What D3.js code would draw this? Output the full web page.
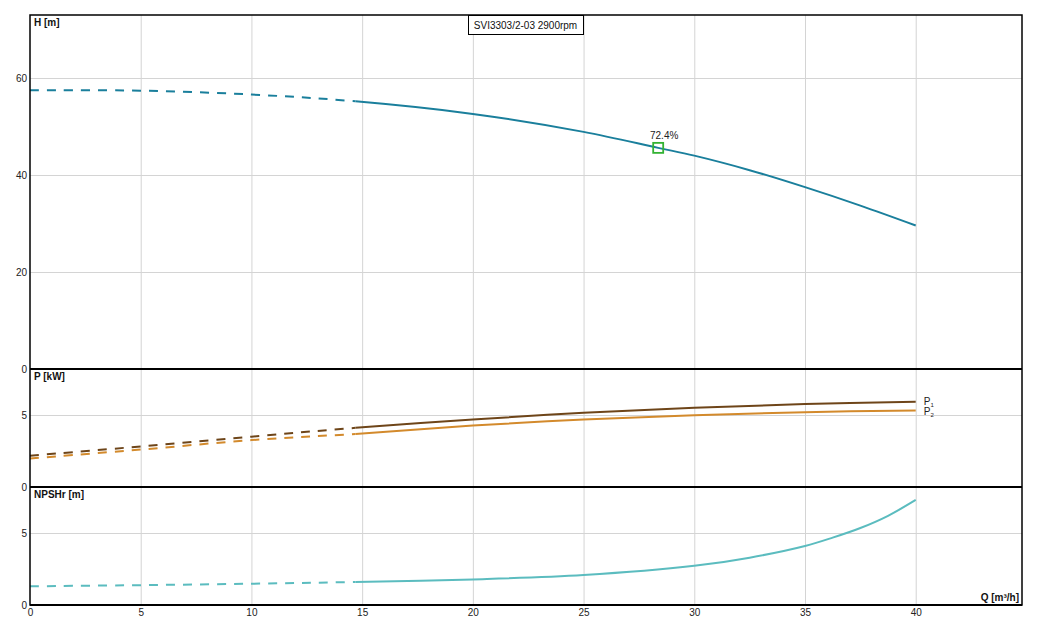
<!DOCTYPE html>
<html><head><meta charset="utf-8">
<script src="https://cdn.jsdelivr.net/npm/d3@7"></script>
<style>body{margin:0;background:#fff}svg{display:block;font-family:"Liberation Sans",Arial,sans-serif}</style>
</head><body>
<svg id="c" width="1043" height="632"></svg>
<script>
// ---- data ----
const title = "SVI3303/2-03 2900rpm";
const qTicks = [0,5,10,15,20,25,30,35,40];
const hTicks = [0,20,40,60];
const pTicks = [0,5];
const nTicks = [0,5];
const qSplit = 14.7;           // below this flow the curves are dashed
const hQ   = [0,5,10,14.7,20,25,28.37,30,32.5,35,37.5,40];
const hVal = [57.5,57.4,56.6,55.2,52.6,48.9,45.6,44.0,41.0,37.5,33.7,29.6];
const pQ   = [0,5,10,14.7,20,25,30,35,40];
const p1Val = [2.17,2.82,3.5,4.11,4.69,5.16,5.51,5.76,5.93];
const p2Val = [1.98,2.6,3.26,3.69,4.27,4.69,4.99,5.2,5.32];
const nQ   = [0,5,10,14.7,20,25,30,32.5,35,36.25,37.5,38.75,40];
const nVal = [1.3,1.38,1.48,1.6,1.78,2.08,2.72,3.29,4.1,4.68,5.35,6.2,7.3];
const bep = {q:28.37, h:45.6, label:"72.4%"};

// ---- layout ----
const svg = d3.select("#c");
const L = 30, R = 1022;
const panels = [
  {top:15, bottom:369, dom:[0,73], ticks:hTicks, label:"H [m]"},
  {top:369, bottom:487, dom:[0,8.2], ticks:pTicks, label:"P [kW]"},
  {top:487, bottom:605, dom:[0,8.2], ticks:nTicks, label:"NPSHr [m]"}
];
const x = d3.scaleLinear().domain([0,44.8]).range([L,R]);
panels.forEach(p => p.y = d3.scaleLinear().domain(p.dom).range([p.bottom,p.top]));

const defs = svg.append("defs");
defs.append("clipPath").attr("id","cl").append("rect").attr("x",0).attr("y",0)
  .attr("width",x(qSplit)).attr("height",632);
defs.append("clipPath").attr("id","cr").append("rect").attr("x",x(qSplit)).attr("y",0)
  .attr("width",1043).attr("height",632);

const grid = "#d4d4d4";
panels.forEach(p => {
  svg.append("g").selectAll("line").data(qTicks.filter(d=>d>0)).join("line")
    .attr("x1",d=>x(d)+0.5).attr("x2",d=>x(d)+0.5).attr("y1",p.top).attr("y2",p.bottom)
    .attr("stroke",grid).attr("stroke-width",1);
  svg.append("g").selectAll("line").data(p.ticks.filter(d=>d>0)).join("line")
    .attr("x1",L).attr("x2",R).attr("y1",d=>Math.round(p.y(d))+0.5).attr("y2",d=>Math.round(p.y(d))+0.5)
    .attr("stroke",grid).attr("stroke-width",1);
  const ax = svg.append("g").attr("transform",`translate(${L-2},0)`)
    .call(d3.axisLeft(p.y).tickValues(p.ticks).tickSize(0).tickPadding(1).tickFormat(d3.format("d")));
  ax.select(".domain").remove();
  ax.selectAll("text").attr("font-size",10).attr("fill","#222").attr("font-family","Liberation Sans, Arial, sans-serif");
  svg.append("text").attr("x",L+4).attr("y",p.top+11).attr("font-size",10).attr("font-weight","bold")
    .attr("fill","#111").text(p.label);
});

const xa = svg.append("g").attr("transform",`translate(0,${605})`)
  .call(d3.axisBottom(x).tickValues(qTicks).tickSize(0).tickPadding(4).tickFormat(d3.format("d")));
xa.select(".domain").remove();
xa.selectAll("text").attr("font-size",10).attr("fill","#222").attr("font-family","Liberation Sans, Arial, sans-serif");
svg.append("text").attr("x",R-3).attr("y",601).attr("text-anchor","end").attr("font-size",10)
  .attr("font-weight","bold").attr("fill","#111").text("Q [m³/h]");

function drawCurve(qs, vs, yScale, color, width) {
  const pts = qs.map((q,i)=>[q,vs[i]]);
  const line = d3.line().x(d=>x(d[0])).y(d=>yScale(d[1])).curve(d3.curveCatmullRom.alpha(0.5));
  const d = line(pts);
  svg.append("path").attr("d",d).attr("fill","none").attr("clip-path","url(#cl)")
    .attr("stroke",color).attr("stroke-width",width).attr("stroke-dasharray","9,8");
  svg.append("path").attr("d",d).attr("fill","none").attr("clip-path","url(#cr)")
    .attr("stroke",color).attr("stroke-width",width);
}
drawCurve(hQ,hVal,panels[0].y,"#1a7f9c",2);
drawCurve(pQ,p1Val,panels[1].y,"#6e4519",2);
drawCurve(pQ,p2Val,panels[1].y,"#d38a2c",2);
drawCurve(nQ,nVal,panels[2].y,"#5bbcbf",2);

const pl = [[p1Val,"1"],[p2Val,"2"]];
pl.forEach(([v,s],i)=>{
  const t = svg.append("text").attr("x",x(40)+8).attr("y",panels[1].y(v[v.length-1])+3+(i?2:0))
    .attr("font-size",10).attr("fill","#222");
  t.append("tspan").text("P");
  t.append("tspan").attr("font-size",6).attr("dy",2).text(s);
});

svg.append("rect").attr("x",x(bep.q)-5).attr("y",panels[0].y(bep.h)-5).attr("width",10).attr("height",10)
  .attr("fill","none").attr("stroke","#33b233").attr("stroke-width",1.8);
svg.append("text").attr("x",x(bep.q)+6).attr("y",panels[0].y(bep.h)-9).attr("text-anchor","middle")
  .attr("font-size",10).attr("fill","#222").text(bep.label);

svg.append("rect").attr("x",L).attr("y",15).attr("width",R-L).attr("height",605-15)
  .attr("fill","none").attr("stroke","#000").attr("stroke-width",1.5);
[369,487,605].forEach(yy=>svg.append("line").attr("x1",L).attr("x2",R).attr("y1",yy).attr("y2",yy)
  .attr("stroke","#000").attr("stroke-width",2));

const tb = svg.append("g");
const tt = tb.append("text").attr("x",525.5).attr("y",29).attr("text-anchor","middle").attr("font-size",10)
  .attr("fill","#111").text(title);
const bb = tt.node().getBBox();
tb.insert("rect","text").attr("x",Math.round(bb.x-6)+0.5).attr("y",15.5).attr("width",Math.round(bb.width+12))
  .attr("height",19).attr("fill","#fff").attr("stroke","#000").attr("stroke-width",1);
</script>
</body></html>
